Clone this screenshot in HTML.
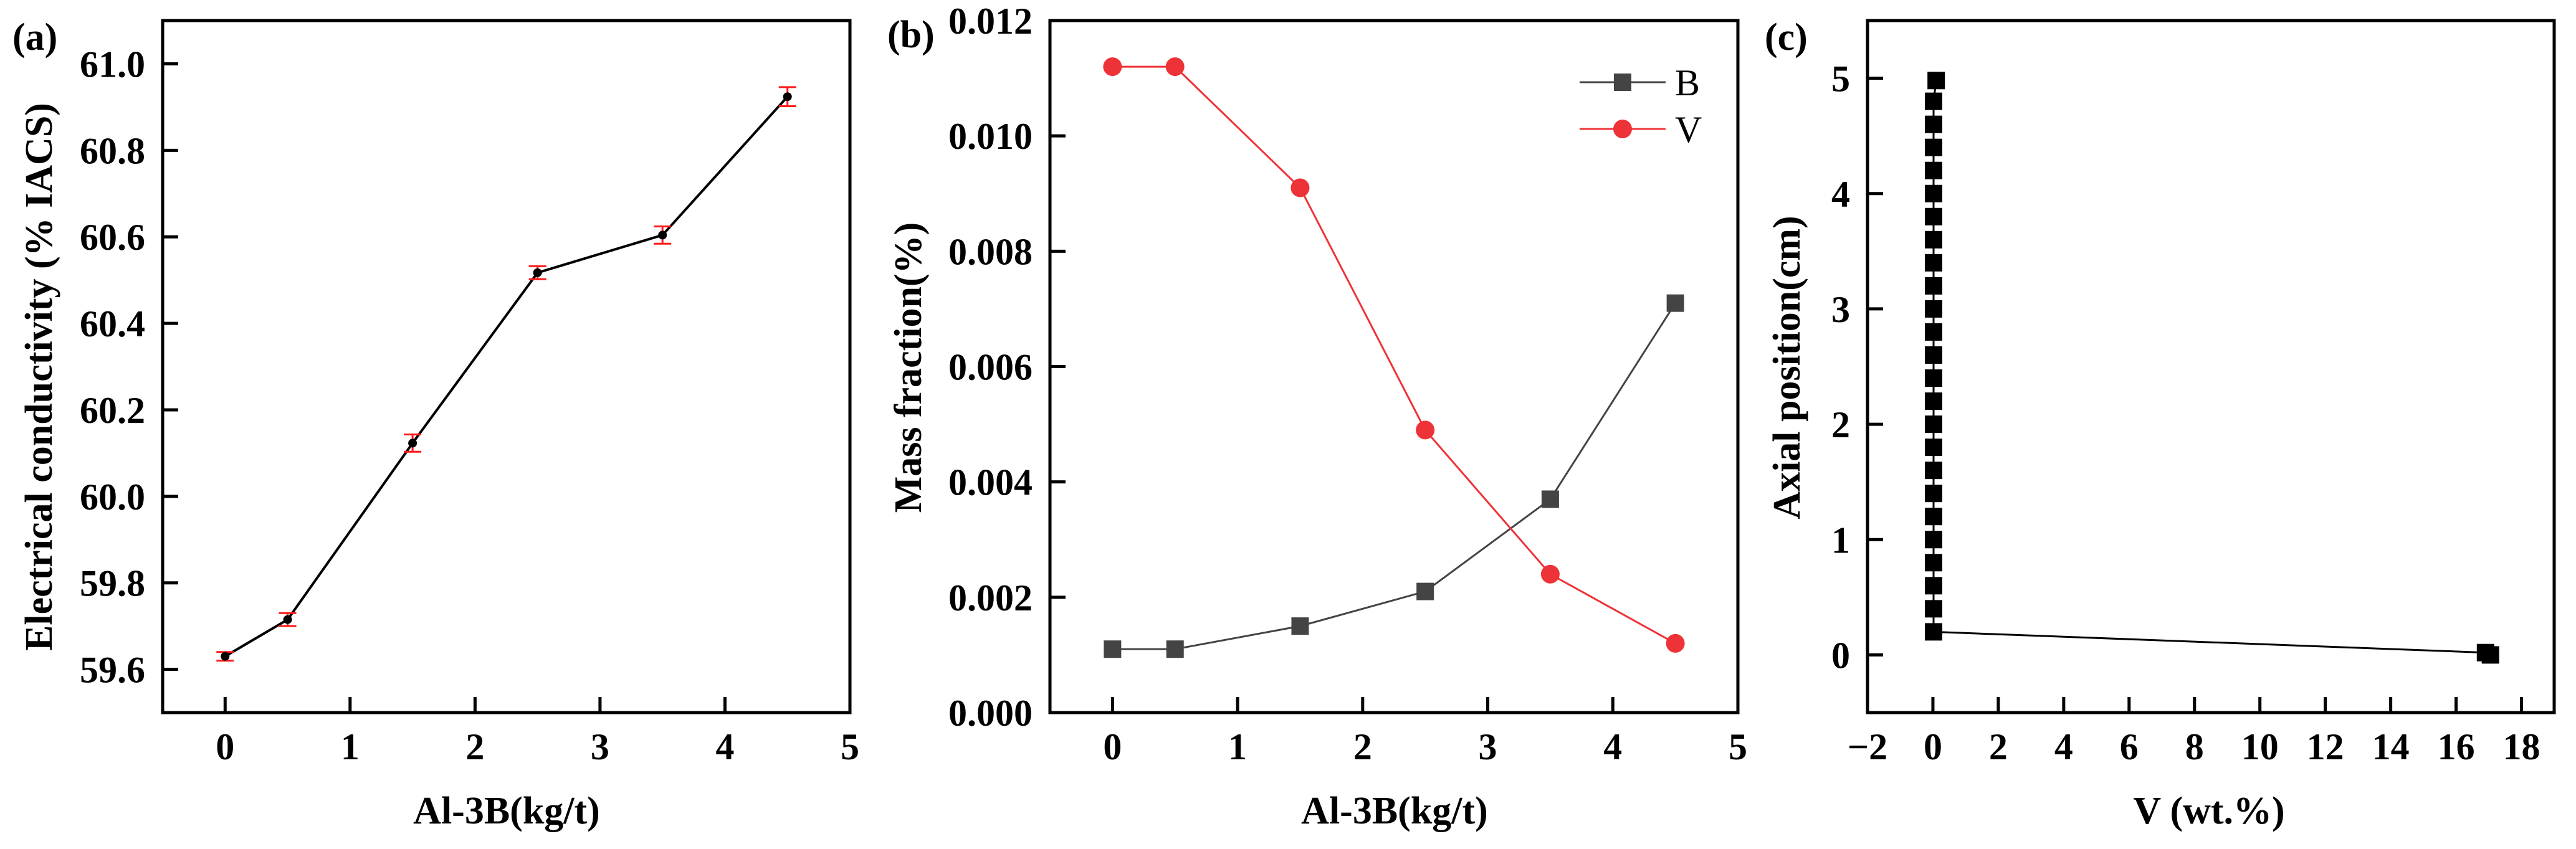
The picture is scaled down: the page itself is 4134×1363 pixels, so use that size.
<!DOCTYPE html>
<html><head><meta charset="utf-8"><style>
html,body{margin:0;padding:0;background:#fff;}
svg{display:block;font-family:"Liberation Serif",serif;font-weight:bold;}
</style></head><body>
<svg id="fig" width="4134" height="1363" viewBox="0 0 4134 1363" xmlns="http://www.w3.org/2000/svg"></svg>
<script>
// Panel (a)
const aX = [0, 0.5, 1.5, 2.5, 3.5, 4.5];
const aY = [59.63, 59.715, 60.123, 60.517, 60.604, 60.924];
const aErr = [0.01, 0.015, 0.02, 0.015, 0.02, 0.022];
const aXTicks = [0, 1, 2, 3, 4, 5];
const aYTicks = [59.6, 59.8, 60.0, 60.2, 60.4, 60.6, 60.8, 61.0];
const aYTickLabels = ["59.6", "59.8", "60.0", "60.2", "60.4", "60.6", "60.8", "61.0"];
// Panel (b)
const bX = [0, 0.5, 1.5, 2.5, 3.5, 4.5];
const bB = [0.0011, 0.0011, 0.0015, 0.0021, 0.0037, 0.0071];
const bV = [0.0112, 0.0112, 0.0091, 0.0049, 0.0024, 0.0012];
const bXTicks = [0, 1, 2, 3, 4, 5];
const bYTicks = [0, 0.002, 0.004, 0.006, 0.008, 0.010, 0.012];
const bYTickLabels = ["0.000", "0.002", "0.004", "0.006", "0.008", "0.010", "0.012"];
// Panel (c)
const cV = [0.1, 0.02, 0.02, 0.02, 0.02, 0.02, 0.02, 0.02, 0.02, 0.02, 0.02, 0.02, 0.02, 0.02, 0.02, 0.02, 0.02, 0.02, 0.02, 0.02, 0.02, 0.02, 0.02, 0.02, 0.02, 16.9, 17.05];
const cPos = [4.98, 4.8, 4.6, 4.4, 4.2, 4.0, 3.8, 3.6, 3.4, 3.2, 3.0, 2.8, 2.6, 2.4, 2.2, 2.0, 1.8, 1.6, 1.4, 1.2, 1.0, 0.8, 0.6, 0.4, 0.2, 0.02, 0.0];
const cXTicks = [-2, 0, 2, 4, 6, 8, 10, 12, 14, 16, 18];
const cXTickLabels = ["\u22122", "0", "2", "4", "6", "8", "10", "12", "14", "16", "18"];
const cYTicks = [0, 1, 2, 3, 4, 5];

const NS = "http://www.w3.org/2000/svg";
const svg = document.getElementById('fig');
function mk(tag, attrs, parent, text) {
  const e = document.createElementNS(NS, tag);
  for (const k in attrs) e.setAttribute(k, attrs[k]);
  if (text !== undefined) e.textContent = text;
  (parent || svg).appendChild(e);
  return e;
}
function scale(d0, d1, r0, r1) { return v => r0 + (v - d0) / (d1 - d0) * (r1 - r0); }

function axes(g, L, R, T, B, sx, sy, xt, xl, yt, yl, tickLenX) {
  // ticks inward
  xt.forEach((v, i) => {
    const x = sx(v);
    const t = mk('line', {x1: x, x2: x, y1: B, y2: B - 25, stroke: '#000', 'stroke-width': 5}, g);
    
    
    const l = mk('text', {x: x, y: B + 75, 'font-size': 60, 'text-anchor': 'middle'}, g, xl[i]);
    
    
  });
  yt.forEach((v, i) => {
    const y = sy(v);
    const t = mk('line', {x1: L, x2: L + 25, y1: y, y2: y, stroke: '#000', 'stroke-width': 5}, g);
    
    
    const l = mk('text', {x: L - 28, y: y + 21, 'font-size': 60, 'text-anchor': 'end'}, g, yl[i]);
    
    
  });
  const f = mk('rect', {x: L, y: T, width: R - L, height: B - T, fill: 'none', stroke: '#000', 'stroke-width': 5}, g);
  
  
}
function poly(g, xs, ys, sx, sy, color, w) {
  const pts = xs.map((v, i) => sx(v) + ',' + sy(ys[i])).join(' ');
  return mk('polyline', {points: pts, fill: 'none', stroke: color, 'stroke-width': w}, g);
}

// ---------- Panel A ----------
(function () {
  const g = mk('g', {});
  
  
  const L = 261, R = 1364, T = 33, B = 1144;
  const sx = scale(-0.5, 5, L, R), sy = scale(59.5, 61.1, B, T);
  axes(g, L, R, T, B, sx, sy, aXTicks, aXTicks.map(String), aYTicks, aYTickLabels);
  const ln = poly(g, aX, aY, sx, sy, '#000', 4);
  
  
  aX.forEach((v, i) => {
    const x = sx(v), y1 = sy(aY[i] + aErr[i]), y2 = sy(aY[i] - aErr[i]);
    const eb = mk('path', {d: `M${x},${y1}V${y2}M${x - 14},${y1}H${x + 14}M${x - 14},${y2}H${x + 14}`, stroke: '#ff1a1a', 'stroke-width': 3, fill: 'none'}, g);
    
    
    const c = mk('circle', {cx: x, cy: sy(aY[i]), r: 7, fill: '#000'}, g);
    
    
  });
  const lab = mk('text', {x: 20, y: 80, 'font-size': 62}, g, '(a)');
  
  
  const xt = mk('text', {x: 813, y: 1322, 'font-size': 62, 'text-anchor': 'middle'}, g, 'Al-3B(kg/t)');
  
  
  const yt = mk('text', {x: 0, y: 0, 'font-size': 62, 'text-anchor': 'middle', transform: 'translate(83,605) rotate(-90)'}, g, 'Electrical conductivity (% IACS)');
  
  
})();

// ---------- Panel B ----------
(function () {
  const g = mk('g', {});
  
  
  const L = 1685, R = 2789, T = 33, B = 1144;
  const sx = scale(-0.5, 5, L, R), sy = scale(0, 0.012, B, T);
  axes(g, L, R, T, B, sx, sy, bXTicks, bXTicks.map(String), bYTicks, bYTickLabels);
  const lb = poly(g, bX, bB, sx, sy, '#444', 3);
  
  
  const lv = poly(g, bX, bV, sx, sy, '#ee3338', 3);
  
  
  bX.forEach((v, i) => {
    const s = mk('rect', {x: sx(v) - 14, y: sy(bB[i]) - 14, width: 28, height: 28, fill: '#444'}, g);
    
    
    const c = mk('circle', {cx: sx(v), cy: sy(bV[i]), r: 15, fill: '#ee3338'}, g);
    
    
  });
  // legend
  const lg = mk('g', {}, g);
  
  
  mk('line', {x1: 2535, x2: 2673, y1: 132, y2: 132, stroke: '#444', 'stroke-width': 3}, lg);
  mk('rect', {x: 2590, y: 118, width: 28, height: 28, fill: '#444'}, lg);
  const t1 = mk('text', {x: 2688, y: 153, 'font-size': 60, 'font-weight': 'normal'}, lg, 'B');
  
  
  mk('line', {x1: 2535, x2: 2673, y1: 207, y2: 207, stroke: '#ee3338', 'stroke-width': 3}, lg);
  mk('circle', {cx: 2604, cy: 207, r: 15, fill: '#ee3338'}, lg);
  const t2 = mk('text', {x: 2688, y: 228, 'font-size': 60, 'font-weight': 'normal'}, lg, 'V');
  
  
  const lab = mk('text', {x: 1424, y: 76, 'font-size': 62}, g, '(b)');
  
  
  const xt = mk('text', {x: 2238, y: 1322, 'font-size': 62, 'text-anchor': 'middle'}, g, 'Al-3B(kg/t)');
  
  
  const yt = mk('text', {x: 0, y: 0, 'font-size': 62, 'text-anchor': 'middle', transform: 'translate(1478,590) rotate(-90)'}, g, 'Mass fraction(%)');
  
  
})();

// ---------- Panel C ----------
(function () {
  const g = mk('g', {});
  
  
  const L = 2997, R = 4099, T = 33, B = 1144;
  const sx = scale(-2, 19, L, R), sy = scale(-0.5, 5.5, B, T);
  axes(g, L, R, T, B, sx, sy, cXTicks, cXTickLabels, cYTicks, cYTicks.map(String));
  const ln = poly(g, cV, cPos, sx, sy, '#000', 3);
  
  
  cV.forEach((v, i) => {
    const s = mk('rect', {x: sx(v) - 14, y: sy(cPos[i]) - 14, width: 28, height: 28, fill: '#000'}, g);
    
    
  });
  const lab = mk('text', {x: 2832, y: 80, 'font-size': 62}, g, '(c)');
  
  
  const xt = mk('text', {x: 3545, y: 1322, 'font-size': 62, 'text-anchor': 'middle'}, g, 'V (wt.%)');
  
  
  const yt = mk('text', {x: 0, y: 0, 'font-size': 62, 'text-anchor': 'middle', transform: 'translate(2888,590) rotate(-90)'}, g, 'Axial position(cm)');
  
  
})();
</script>
</body></html>
